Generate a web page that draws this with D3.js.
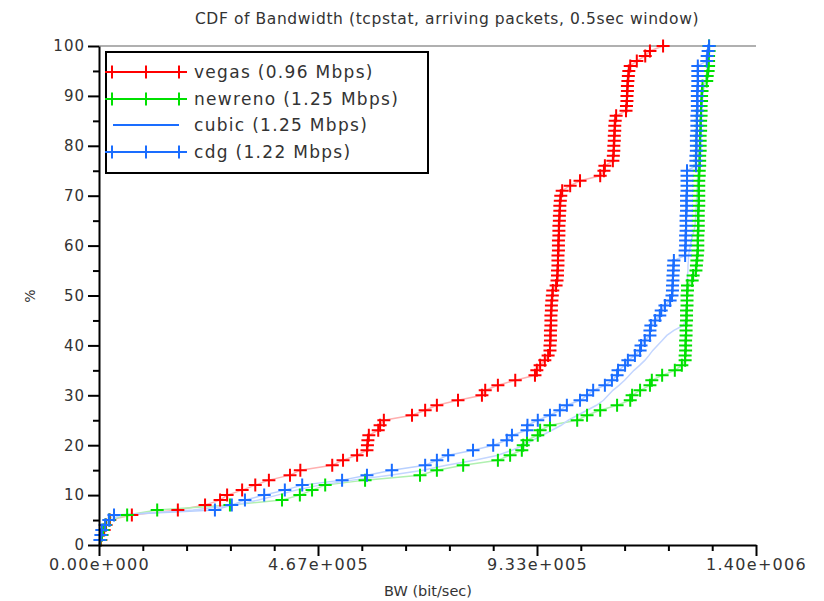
<!DOCTYPE html>
<html>
<head>
<meta charset="utf-8">
<script src="https://cdn.jsdelivr.net/npm/d3@7"></script>
<style>
  body { margin: 0; background: #fff; }
  text { font-family: "DejaVu Sans", sans-serif; fill: #333; }
</style>
</head>
<body>
<svg id="chart" width="824" height="601"></svg>
<script>
// bandwidth samples (kbit/s), sorted, one per percent of the CDF
const vegasKbps = [
  4, 6, 11, 15, 23, 70, 168, 226, 258, 273,
  305, 333, 362, 407, 429, 497, 520, 550, 571, 572,
  573, 575, 595, 599, 607, 667, 695, 720, 765, 816,
  823, 850, 887, 929, 933, 940, 950, 957, 961, 961,
  962, 962, 962, 963, 963, 963, 964, 964, 965, 966,
  967, 974, 976, 977, 977, 978, 978, 978, 979, 979,
  979, 980, 980, 980, 981, 981, 982, 982, 983, 984,
  987, 1004, 1025, 1068, 1076, 1078, 1095, 1096, 1097, 1097,
  1098, 1098, 1099, 1099, 1100, 1102, 1123, 1124, 1125, 1125,
  1126, 1126, 1127, 1128, 1129, 1132, 1146, 1164, 1174, 1202
];
const newrenoKbps = [
  3, 6, 9, 14, 22, 60, 124, 279, 390, 428,
  454, 482, 567, 684, 720, 776, 850, 876, 901, 904,
  912, 935, 940, 961, 1019, 1040, 1068, 1104, 1132, 1136,
  1153, 1174, 1178, 1200, 1227, 1242, 1249, 1249, 1250, 1250,
  1250, 1251, 1251, 1251, 1252, 1252, 1252, 1253, 1253, 1253,
  1254, 1254, 1264, 1266, 1272, 1273, 1274, 1275, 1276, 1276,
  1276, 1276, 1277, 1277, 1277, 1277, 1277, 1278, 1278, 1278,
  1278, 1278, 1278, 1279, 1279, 1280, 1280, 1280, 1281, 1281,
  1281, 1281, 1282, 1282, 1282, 1283, 1283, 1283, 1284, 1284,
  1285, 1286, 1295, 1296, 1298, 1299, 1299, 1299, 1300, 1300
];
const cubicKbps = [
  3, 6, 10, 16, 25, 45, 200, 290, 340, 380,
  420, 470, 540, 620, 690, 740, 800, 850, 880, 905,
  925, 945, 965, 985, 1000, 1020, 1040, 1060, 1075, 1085,
  1095, 1108, 1120, 1130, 1140, 1152, 1163, 1172, 1180, 1190,
  1200, 1210, 1225, 1245, 1250, 1251, 1251, 1252, 1252, 1253,
  1253, 1253, 1254, 1254, 1255, 1255, 1256, 1256, 1258, 1260,
  1262, 1265, 1268, 1270, 1271, 1272, 1272, 1273, 1273, 1274,
  1274, 1275, 1275, 1276, 1276, 1277, 1277, 1278, 1278, 1279,
  1279, 1280, 1280, 1281, 1282, 1283, 1284, 1285, 1286, 1287,
  1288, 1290, 1292, 1294, 1295, 1296, 1297, 1298, 1299, 1300
];
const cdgKbps = [
  2, 4, 6, 13, 21, 32, 247, 283, 311, 352,
  396, 433, 518, 571, 624, 695, 720, 744, 797, 840,
  869, 880, 912, 913, 935, 961, 982, 997, 1025, 1040,
  1053, 1078, 1093, 1104, 1106, 1121, 1127, 1142, 1153, 1155,
  1163, 1174, 1174, 1176, 1185, 1195, 1198, 1206, 1217, 1221,
  1222, 1222, 1223, 1223, 1224, 1224, 1225, 1249, 1249, 1250,
  1250, 1250, 1251, 1251, 1251, 1251, 1252, 1252, 1252, 1252,
  1253, 1253, 1253, 1253, 1253, 1272, 1272, 1272, 1273, 1273,
  1273, 1273, 1274, 1274, 1274, 1274, 1275, 1275, 1275, 1275,
  1275, 1276, 1276, 1276, 1276, 1276, 1295, 1296, 1298, 1300
];

const seriesLabels = ["vegas (0.96 Mbps)", "newreno (1.25 Mbps)", "cubic (1.25 Mbps)", "cdg (1.22 Mbps)"];
const xTickValues = [0, 466667, 933333, 1400000];
const xTickLabels = ["0.00e+000", "4.67e+005", "9.33e+005", "1.40e+006"];
const yTickValues = [0, 10, 20, 30, 40, 50, 60, 70, 80, 90, 100];

const series = [
  {name: seriesLabels[0], vals: vegasKbps, color: "#ff0000", pale: "#ffb0b0", marks: true},
  {name: seriesLabels[1], vals: newrenoKbps, color: "#00e000", pale: "#b0f0b0", marks: true},
  {name: seriesLabels[2], vals: cubicKbps, color: "#1a6dff", pale: "#c4d6ff", marks: false},
  {name: seriesLabels[3], vals: cdgKbps, color: "#1a6dff", pale: "#b8d0ff", marks: true}
];

const svg = d3.select("#chart");
const plotLeft = 99, plotRight = 756, plotTop = 46, plotBottom = 545;

const x = d3.scaleLinear().domain([0, 1400000]).range([plotLeft, plotRight]);
const y = d3.scaleLinear().domain([0, 100]).range([plotBottom, plotTop]);

// CDF points
function cdf(vals) {
  return vals.map((v, i) => ({bw: v * 1000, pct: (i + 1) / vals.length * 100}));
}

// gray line at 100%
svg.append("line")
  .attr("x1", plotLeft).attr("x2", plotRight)
  .attr("y1", y(100)).attr("y2", y(100))
  .attr("stroke", "#b0b0b0").attr("stroke-width", 2);

const plot = svg.append("g");
const lineFn = d3.line().x(d => x(d.bw)).y(d => y(d.pct));
const plus = "M-6.5,0H6.5M0,-6.5V6.5";

series.forEach(s => {
  const pts = cdf(s.vals);
  plot.append("path")
    .attr("d", lineFn([{bw: 0, pct: 0}].concat(pts)))
    .attr("fill", "none")
    .attr("stroke", s.pale)
    .attr("stroke-width", 1.5);
});
series.forEach(s => {
  if (!s.marks) return;
  plot.append("g").selectAll("path")
    .data(cdf(s.vals))
    .join("path")
    .attr("transform", d => `translate(${x(d.bw)},${y(d.pct)})`)
    .attr("d", plus)
    .attr("stroke", s.color)
    .attr("stroke-width", 2)
    .attr("fill", "none");
});

// axes
const yMinor = d3.range(5, 100, 10);
const xMinor = d3.range(1, 15).filter(i => i % 5 !== 0).map(i => i * 1400000 / 15);

const yAxis = svg.append("g")
  .attr("transform", `translate(${plotLeft},0)`)
  .call(d3.axisLeft(y).tickValues(yTickValues).tickSize(11).tickSizeOuter(0).tickPadding(3));
svg.append("g")
  .attr("transform", `translate(${plotLeft},0)`)
  .call(d3.axisLeft(y).tickValues(yMinor).tickSize(6).tickFormat("").tickSizeOuter(0))
  .select(".domain").remove();

const xAxis = svg.append("g")
  .attr("transform", `translate(0,${plotBottom})`)
  .call(d3.axisBottom(x).tickValues(xTickValues).tickSize(11).tickSizeOuter(0).tickPadding(3)
    .tickFormat((d, i) => xTickLabels[i]));
svg.append("g")
  .attr("transform", `translate(0,${plotBottom})`)
  .call(d3.axisBottom(x).tickValues(xMinor).tickSize(6).tickFormat("").tickSizeOuter(0))
  .select(".domain").remove();

svg.selectAll(".domain, .tick line").attr("stroke", "#000").attr("stroke-width", 2);
yAxis.selectAll(".tick text").style("font-size", "15px").attr("letter-spacing", "1px").attr("fill", "#333");
xAxis.selectAll(".tick text").style("font-size", "16px").attr("letter-spacing", "1.3px").attr("fill", "#333");

// titles
svg.append("text")
  .attr("x", 447).attr("y", 24)
  .attr("text-anchor", "middle")
  .style("font-size", "15.5px").attr("letter-spacing", "0.6px")
  .text("CDF of Bandwidth (tcpstat, arriving packets, 0.5sec window)");
svg.append("text")
  .attr("x", 428).attr("y", 596)
  .attr("text-anchor", "middle")
  .style("font-size", "14.5px")
  .text("BW (bit/sec)");
svg.append("text")
  .attr("transform", "translate(35,296) rotate(-90)")
  .attr("text-anchor", "middle")
  .style("font-size", "14px")
  .text("%");

// legend
const legend = svg.append("g");
legend.append("rect")
  .attr("x", 106).attr("y", 52).attr("width", 322).attr("height", 121)
  .attr("fill", "#fff").attr("stroke", "#000").attr("stroke-width", 2);
const rowY = [72, 99, 125, 152];
series.forEach((s, i) => {
  const g = legend.append("g").attr("transform", `translate(0,${rowY[i]})`);
  if (s.marks) {
    g.append("line").attr("x1", 105).attr("x2", 187)
      .attr("stroke", s.color).attr("stroke-width", 2);
    [112, 146, 179].forEach(px => g.append("path")
      .attr("transform", `translate(${px},0)`)
      .attr("d", plus).attr("stroke", s.color).attr("stroke-width", 2));
  } else {
    g.append("line").attr("x1", 113).attr("x2", 179)
      .attr("stroke", s.color).attr("stroke-width", 2);
  }
  g.append("text").attr("x", 194).attr("y", 6)
    .style("font-size", "17px").attr("letter-spacing", "1.3px")
    .text(s.name);
});
</script>
</body>
</html>
